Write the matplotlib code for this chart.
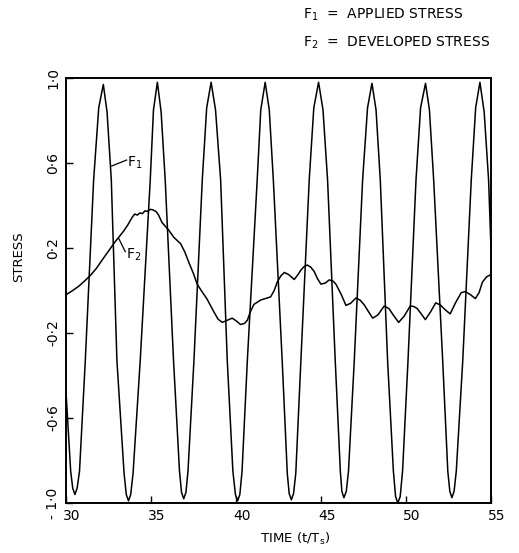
import numpy as np
import matplotlib
matplotlib.use("Agg")
import matplotlib.pyplot as plt
import matplotlib.transforms as mtransforms

# F1 = applied stress (troughs, peaks and flank points)
t_f1 = [30.0, 30.28, 30.40, 30.53, 30.66, 30.80, 31.14, 31.63, 31.93, 32.20, 32.42, 32.67,
        33.00, 33.42, 33.55, 33.68, 33.81, 33.95, 34.37, 34.96, 35.15, 35.38, 35.60, 35.84,
        36.33, 36.68, 36.80, 36.93, 37.06, 37.18, 37.53, 38.02, 38.28, 38.54, 38.80, 39.10,
        39.49, 39.82, 39.97, 40.10, 40.23, 40.36, 40.67, 41.25, 41.46, 41.72, 41.96, 42.20,
        42.72, 43.02, 43.13, 43.26, 43.39, 43.52, 43.82, 44.31, 44.58, 44.86, 45.12, 45.39,
        45.84, 46.14, 46.23, 46.35, 46.49, 46.62, 46.96, 47.45, 47.74, 48.00, 48.24, 48.49,
        48.92, 49.26, 49.39, 49.52, 49.66, 49.80, 50.12, 50.59, 50.86, 51.15, 51.38, 51.63,
        52.16, 52.46, 52.58, 52.70, 52.83, 52.96, 53.34, 53.84, 54.10, 54.35, 54.60, 54.86,
        55.0]
f1 = [-0.47, -0.85, -0.93, -0.96, -0.93, -0.85, -0.33, 0.52, 0.86, 0.97, 0.84, 0.52,
      -0.33, -0.86, -0.96, -0.99, -0.96, -0.86, -0.33, 0.52, 0.85, 0.98, 0.84, 0.52,
      -0.33, -0.85, -0.95, -0.98, -0.95, -0.85, -0.33, 0.52, 0.86, 0.98, 0.85, 0.52,
      -0.33, -0.85, -0.96, -0.99, -0.96, -0.85, -0.33, 0.52, 0.85, 0.98, 0.85, 0.52,
      -0.33, -0.86, -0.955, -0.985, -0.955, -0.86, -0.33, 0.52, 0.86, 0.98, 0.85, 0.52,
      -0.33, -0.85, -0.945, -0.975, -0.945, -0.85, -0.33, 0.52, 0.86, 0.975, 0.85, 0.52,
      -0.33, -0.85, -0.97, -1.0, -0.97, -0.85, -0.33, 0.52, 0.86, 0.975, 0.85, 0.52,
      -0.33, -0.85, -0.945, -0.975, -0.945, -0.85, -0.33, 0.52, 0.86, 0.98, 0.84, 0.52,
      0.20]

# F2 = developed stress
t_f2 = [30.0, 30.4, 30.75, 31.1, 31.43, 31.8, 32.1, 32.5, 32.9, 33.2, 33.4,
        33.65, 33.9, 34.05, 34.2, 34.35, 34.5, 34.65, 34.8, 34.95, 35.1, 35.3,
        35.45, 35.65, 36.04, 36.35, 36.75, 37.0, 37.24, 37.5, 37.72, 38.0,
        38.3, 38.7, 38.95, 39.2, 39.49, 39.78, 40.05, 40.27, 40.5, 40.67,
        40.85, 41.06, 41.45, 42.04, 42.25, 42.43, 42.65, 42.85, 43.1, 43.43,
        43.65, 43.82, 44.0, 44.2, 44.4, 44.6, 44.8, 45.0, 45.25, 45.49, 45.7,
        45.88, 46.2, 46.47, 46.75, 47.06, 47.3, 47.55, 47.8, 48.04, 48.35,
        48.72, 49.0, 49.25, 49.57, 49.9, 50.25, 50.45, 50.65, 50.9, 51.14,
        51.45, 51.75, 52.02, 52.3, 52.6, 52.9, 53.25, 53.49, 53.8, 54.08,
        54.3, 54.5, 54.75, 55.0]
f2 = [-0.02, 0.0, 0.02, 0.045, 0.07, 0.105, 0.14, 0.185, 0.23, 0.26, 0.28,
      0.31, 0.345, 0.36, 0.355, 0.365, 0.362, 0.375, 0.372, 0.382, 0.38, 0.372,
      0.355, 0.32, 0.285, 0.25, 0.22, 0.18, 0.13, 0.08, 0.03, -0.005,
      -0.04, -0.10, -0.135, -0.15, -0.14, -0.13, -0.145, -0.16, -0.155, -0.14,
      -0.10, -0.065, -0.045, -0.03, 0.0, 0.04, 0.07, 0.085, 0.075, 0.052,
      0.075, 0.096, 0.112, 0.12, 0.11, 0.09, 0.055, 0.03, 0.035, 0.05, 0.045,
      0.03, -0.02, -0.07, -0.06, -0.035, -0.045, -0.068, -0.1, -0.13, -0.115,
      -0.073, -0.085, -0.115, -0.15, -0.12, -0.073, -0.075, -0.084, -0.11,
      -0.137, -0.1, -0.058, -0.068, -0.09, -0.11, -0.06, -0.01, -0.005,
      -0.02, -0.038, -0.01, 0.04, 0.065, 0.075]

xticks = [30, 35, 40, 45, 50, 55]
yticks = [1.0, 0.6, 0.2, -0.2, -0.6, -1.0]
ytick_labels = ["1\u00b70", "0\u00b76", "0\u00b72", "-0\u00b72", "-0\u00b76", "- 1\u00b70"]

fig = plt.figure(figsize=(5.19, 5.53), dpi=100)
ax = fig.add_axes([0.127, 0.0904, 0.819, 0.7685])

ax.plot(t_f1, f1, color="black", lw=1.1)
ax.plot(t_f2, f2, color="black", lw=1.1)

ax.set_xlim(30, 55)
ax.set_ylim(-1.0, 1.0)
for s in ax.spines.values():
    s.set_linewidth(1.4)

ax.set_xticks(xticks)
ax.set_xticklabels([str(x) for x in xticks], fontsize=10)
ax.set_yticks(yticks)
ax.set_yticklabels(ytick_labels, fontsize=10, rotation=90, va="center")
ax.tick_params(direction="in", length=5, width=1.0, pad=4)

# tick labels sit a little right of their ticks in the original
off = mtransforms.ScaledTranslation(6 / 100, 0, fig.dpi_scale_trans)
for lab in ax.get_xticklabels():
    lab.set_transform(lab.get_transform() + off)

ax.set_xlabel("TIME (t/T$_\\mathrm{s}$)", fontsize=9.5)
ax.xaxis.set_label_coords(0.54, -0.065)
ax.set_ylabel("STRESS", fontsize=9.5)
ax.yaxis.set_label_coords(-0.095, 0.58)

# curve labels with leader lines
ax.plot([32.69, 33.57], [0.586, 0.614], color="black", lw=0.9)
ax.text(33.62, 0.60, "F$_1$", fontsize=10, va="center", ha="left")
ax.plot([33.1, 33.49], [0.246, 0.183], color="black", lw=0.9)
ax.text(33.56, 0.167, "F$_2$", fontsize=10, va="center", ha="left")

fig.text(0.584, 0.973, "F$_1$  =  APPLIED STRESS", fontsize=10, va="center", ha="left")
fig.text(0.584, 0.922, "F$_2$  =  DEVELOPED STRESS", fontsize=10, va="center", ha="left")

fig.savefig("out.png", dpi=100)
